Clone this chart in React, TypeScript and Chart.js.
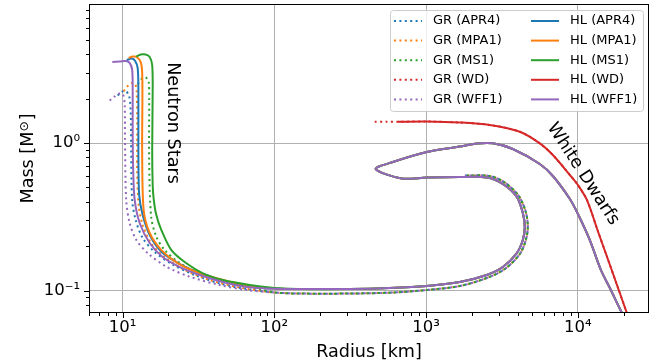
import React, { useEffect, useRef } from 'react';
import { Chart, registerables } from 'chart.js';

Chart.register(...registerables);

const FONT = '"DejaVu Sans", "Liberation Sans", sans-serif';

// ---------- axis ticks ----------
const X_MIN = 6;
const X_MAX = 29400;
const Y_MIN = 0.0704;
const Y_MAX = 8.76;
const X_MAJOR = [10, 100, 1000, 10000];
const X_LABELS = ['10¹', '10²', '10³', '10⁴'];
const Y_MAJOR = [0.1, 1];
const Y_LABELS = ['10⁻¹', '10⁰'];

// ---------- shared low-density tails ----------
const HL_TAIL_R = [146.9, 313.6, 575, 1009, 1665, 2508, 3199, 3956, 4334, 4466, 4334, 3956, 3199, 2508, 1665, 1009, 690, 465, 603, 1009, 1665, 2156, 2748, 3724, 5607, 6836, 8853, 10000, 11980, 14160, 16480, 19500, 20100];
const HL_TAIL_M = [0.1024, 0.1024, 0.104, 0.1073, 0.1142, 0.1274, 0.1443, 0.1795, 0.22, 0.2695, 0.3353, 0.4304, 0.5273, 0.5834, 0.588, 0.5834, 0.5744, 0.6665, 0.743, 0.869, 0.9468, 0.9922, 0.9953, 0.911, 0.7206, 0.5974, 0.4173, 0.3301, 0.22, 0.138, 0.1008, 0.0704, 0.068];

const GR_TAIL_R = [100.5, 146.9, 313.6, 603, 1009, 1665, 2508, 3296, 4140, 4535, 4675, 4535, 4077, 3296, 2624, 1797];
const GR_TAIL_M = [0.0969, 0.0954, 0.0954, 0.0969, 0.1008, 0.1073, 0.1216, 0.1399, 0.1768, 0.22, 0.2695, 0.3404, 0.437, 0.5398, 0.5974, 0.602];

// ---------- GR (dotted) neutron-star branches ----------
const GR_APR4_R = [9.27, 9.85, 10.47, 11.03, 11.29, 11.38, 11.55, 12.18, 13.55, 16.25, 21.04, 29.8, 44.9, 68.7];
const GR_APR4_M = [2.1, 2.22, 2.25, 2.08, 1.67, 0.897, 0.411, 0.301, 0.227, 0.1824, 0.1512, 0.1274, 0.1106, 0.1016];
const GR_MPA1_R = [10.15, 10.79, 11.47, 12.09, 12.37, 12.46, 12.46, 12.75, 13.55, 15.53, 19.21, 25.6, 37.5, 59.1];
const GR_MPA1_M = [2.25, 2.43, 2.55, 2.51, 2.22, 1.43, 0.656, 0.38, 0.278, 0.2066, 0.1661, 0.138, 0.1178, 0.1048];
const GR_MS1_R = [12.56, 13.34, 14.18, 14.84, 14.95, 14.95, 15.41, 16.68, 18.92, 23.8, 33.7, 50.7, 80.0];
const GR_MS1_M = [2.51, 2.72, 2.78, 2.59, 1.96, 0.767, 0.3165, 0.2316, 0.188, 0.1536, 0.1274, 0.1124, 0.1024];
const GR_WFF1_R = [8.21, 8.86, 9.55, 10.08, 10.31, 10.36, 10.55, 11.12, 12.31, 14.68, 19.42, 27.7, 43.6, 65.4];
const GR_WFF1_M = [1.94, 2.07, 2.17, 2.12, 1.81, 1.048, 0.411, 0.2868, 0.22, 0.1788, 0.145, 0.1241, 0.109, 0.1008];
const GR_WD_R = [458, 550, 650, 1009, 1665, 2624, 4140, 5607, 6836, 8853, 10000, 11460, 13670, 15820, 18580, 21010, 22320];
const GR_WD_M = [1.392, 1.394, 1.394, 1.399, 1.377, 1.325, 1.193, 0.995, 0.829, 0.607, 0.519, 0.411, 0.2454, 0.161, 0.1008, 0.0704, 0.0593];

// ---------- HL (solid) neutron-star branches ----------
const HL_APR4_R = [10.63, 11.47, 12.09, 12.56, 12.69, 12.69, 12.85, 13.55, 15.07, 18.07, 23.8, 32.2, 49.2, 68.7, 100.5];
const HL_APR4_M = [3.65, 3.74, 3.6, 3.22, 2.29, 0.897, 0.444, 0.325, 0.2378, 0.1824, 0.1512, 0.1314, 0.1142, 0.1064, 0.103];
const HL_MPA1_R = [10.95, 11.64, 12.37, 13.14, 13.44, 13.49, 13.44, 13.75, 15.07, 17.99, 23.04, 32.2, 50.7, 74.2, 100.5];
const HL_MPA1_M = [3.77, 3.86, 3.83, 3.54, 3.03, 1.96, 0.897, 0.351, 0.2454, 0.188, 0.1536, 0.1314, 0.1147, 0.1064, 0.1032];
const HL_MS1_R = [12.27, 13.14, 14.18, 15.07, 15.65, 15.77, 15.65, 15.77, 16.0, 16.6, 17.99, 20.94, 26.3, 33.8, 45.8, 68.7, 100.5];
const HL_MS1_M = [3.86, 3.98, 3.98, 3.83, 3.38, 2.29, 0.897, 0.519, 0.42, 0.33, 0.257, 0.188, 0.1529, 0.1308, 0.1178, 0.109, 0.104];
const HL_WFF1_R = [8.55, 9.55, 10.47, 11.12, 11.55, 11.64, 11.64, 11.73, 12.0, 12.94, 15.07, 18.35, 23.8, 32.2, 45.6, 65.7, 100.5];
const HL_WFF1_M = [3.54, 3.57, 3.6, 3.49, 3.13, 2.29, 1.225, 0.656, 0.411, 0.2868, 0.2099, 0.1687, 0.1443, 0.1274, 0.1142, 0.1056, 0.1026];
const HL_WD_R = [650, 1009, 1665, 2624, 4140, 5607, 6836, 8853, 10000, 11460, 13670, 15820, 18580, 21010, 22320];
const HL_WD_M = [1.394, 1.399, 1.377, 1.325, 1.193, 0.995, 0.829, 0.607, 0.519, 0.411, 0.2454, 0.161, 0.1008, 0.0704, 0.0593];

const COLORS: Record<string, string> = {
  APR4: '#1f77b4',
  MPA1: '#ff7f0e',
  MS1: '#2ca02c',
  WD: '#d62728',
  WFF1: '#9467bd',
};
const EOS = ['APR4', 'MPA1', 'MS1', 'WD', 'WFF1'];

const zip = (r: number[], m: number[]) => r.map((x, i) => ({ x, y: m[i] }));

function minorTicks(min: number, max: number, majors: number[]) {
  const out: number[] = [];
  const e0 = Math.floor(Math.log10(min));
  const e1 = Math.ceil(Math.log10(max));
  for (let e = e0; e <= e1; e++) {
    for (let k = 1; k <= 9; k++) {
      const v = parseFloat((k * Math.pow(10, e)).toPrecision(6));
      if (v >= min && v <= max && !majors.includes(v)) out.push(v);
    }
  }
  return out;
}

const decorPlugin = {
  id: 'decor',
  afterDatasetsDraw(chart: any) {
    const ctx = chart.ctx as CanvasRenderingContext2D;
    const { left, right, top, bottom } = chart.chartArea;
    const xs = chart.scales.x;
    const ys = chart.scales.y;
    ctx.save();

    // annotations
    ctx.fillStyle = '#000';
    ctx.font = `17.6px ${FONT}`;
    ctx.save();
    ctx.translate(168, 123);
    ctx.rotate(Math.PI / 2);
    ctx.textAlign = 'center';
    ctx.textBaseline = 'alphabetic';
    ctx.fillText('Neutron Stars', 0, 0);
    ctx.restore();

    ctx.save();
    ctx.translate(583, 174);
    ctx.rotate((57 * Math.PI) / 180);
    ctx.textAlign = 'center';
    ctx.textBaseline = 'middle';
    ctx.fillText('White Dwarfs', 0, 0);
    ctx.restore();

    // spines
    ctx.strokeStyle = '#000';
    ctx.lineWidth = 1;
    ctx.strokeRect(left + 0.5, top + 0.5, right - left - 1, bottom - top - 1);

    // tick marks
    const xMinor = minorTicks(X_MIN, X_MAX, X_MAJOR);
    const yMinor = minorTicks(Y_MIN, Y_MAX, Y_MAJOR);
    ctx.beginPath();
    X_MAJOR.forEach((v) => {
      const p = Math.round(xs.getPixelForValue(v)) + 0.5;
      ctx.moveTo(p, bottom);
      ctx.lineTo(p, bottom + 5);
    });
    xMinor.forEach((v) => {
      const p = Math.round(xs.getPixelForValue(v)) + 0.5;
      ctx.moveTo(p, bottom);
      ctx.lineTo(p, bottom + 3);
    });
    Y_MAJOR.forEach((v) => {
      const p = Math.round(ys.getPixelForValue(v)) + 0.5;
      ctx.moveTo(left, p);
      ctx.lineTo(left - 5, p);
    });
    yMinor.forEach((v) => {
      const p = Math.round(ys.getPixelForValue(v)) + 0.5;
      ctx.moveTo(left, p);
      ctx.lineTo(left - 3, p);
    });
    ctx.stroke();

    // axis titles
    ctx.fillStyle = '#000';
    ctx.font = `17.6px ${FONT}`;
    ctx.textAlign = 'center';
    ctx.textBaseline = 'alphabetic';
    ctx.fillText('Radius [km]', (left + right) / 2, 357);

    ctx.save();
    ctx.translate(33, (top + bottom) / 2);
    ctx.rotate(-Math.PI / 2);
    ctx.textAlign = 'left';
    const big = `17.6px ${FONT}`;
    const small = `12.3px ${FONT}`;
    ctx.font = big;
    const p1 = 'Mass [M';
    const p3 = ']';
    const w1 = ctx.measureText(p1).width;
    const w3 = ctx.measureText(p3).width;
    ctx.font = small;
    const w2 = ctx.measureText('⊙').width;
    const total = w1 + w2 + w3 + 1;
    let cx = -total / 2;
    ctx.font = big;
    ctx.fillText(p1, cx, 0);
    cx += w1;
    ctx.font = small;
    ctx.fillText('⊙', cx, -5);
    cx += w2 + 1;
    ctx.font = big;
    ctx.fillText(p3, cx, 0);
    ctx.restore();

    // legend
    const lx = 390.5;
    const ly = 10.5;
    const lw = 253;
    const lh = 101;
    ctx.beginPath();
    ctx.roundRect(lx, ly, lw, lh, 3);
    ctx.fillStyle = 'rgba(255,255,255,0.8)';
    ctx.fill();
    ctx.strokeStyle = '#cccccc';
    ctx.lineWidth = 1;
    ctx.stroke();

    ctx.font = `13px ${FONT}`;
    ctx.textAlign = 'left';
    ctx.textBaseline = 'middle';
    const datasets = chart.data.datasets;
    datasets.forEach((ds: any, i: number) => {
      const col = i < 5 ? 0 : 1;
      const row = i % 5;
      const y = 21 + row * 19.6;
      const hx0 = col === 0 ? 394 : 531;
      const hx1 = hx0 + 28;
      ctx.beginPath();
      ctx.strokeStyle = ds.borderColor;
      ctx.lineWidth = 2;
      ctx.setLineDash(ds.borderDash || []);
      ctx.moveTo(hx0, y);
      ctx.lineTo(hx1, y);
      ctx.stroke();
      ctx.setLineDash([]);
      ctx.fillStyle = '#000';
      ctx.fillText(ds.label, hx1 + 11, y);
    });

    ctx.restore();
  },
};

export default function App() {
  const ref = useRef<HTMLCanvasElement | null>(null);

  useEffect(() => {
    document.body.style.margin = '0';
    if (!ref.current) return;
    Chart.defaults.font.family = FONT;

    const gr: Record<string, [number[], number[]]> = {
      APR4: [GR_APR4_R.concat(GR_TAIL_R), GR_APR4_M.concat(GR_TAIL_M)],
      MPA1: [GR_MPA1_R.concat(GR_TAIL_R), GR_MPA1_M.concat(GR_TAIL_M)],
      MS1: [GR_MS1_R.concat(GR_TAIL_R), GR_MS1_M.concat(GR_TAIL_M)],
      WD: [GR_WD_R, GR_WD_M],
      WFF1: [GR_WFF1_R.concat(GR_TAIL_R), GR_WFF1_M.concat(GR_TAIL_M)],
    };
    const hl: Record<string, [number[], number[]]> = {
      APR4: [HL_APR4_R.concat(HL_TAIL_R), HL_APR4_M.concat(HL_TAIL_M)],
      MPA1: [HL_MPA1_R.concat(HL_TAIL_R), HL_MPA1_M.concat(HL_TAIL_M)],
      MS1: [HL_MS1_R.concat(HL_TAIL_R), HL_MS1_M.concat(HL_TAIL_M)],
      WD: [HL_WD_R, HL_WD_M],
      WFF1: [HL_WFF1_R.concat(HL_TAIL_R), HL_WFF1_M.concat(HL_TAIL_M)],
    };

    const datasets: any[] = [];
    EOS.forEach((e) => {
      datasets.push({
        label: `GR (${e})`,
        data: zip(gr[e][0], gr[e][1]),
        borderColor: COLORS[e],
        backgroundColor: COLORS[e],
        borderDash: [2, 3.4],
      });
    });
    EOS.forEach((e) => {
      datasets.push({
        label: `HL (${e})`,
        data: zip(hl[e][0], hl[e][1]),
        borderColor: COLORS[e],
        backgroundColor: COLORS[e],
      });
    });
    datasets.forEach((d, i) => {
      d.showLine = true;
      d.fill = false;
      d.pointRadius = 0;
      d.borderWidth = 2;
      d.tension = 0.3;
      d.order = datasets.length - i;
    });

    const xTickVals = X_MAJOR.concat(minorTicks(X_MIN, X_MAX, X_MAJOR)).sort((a, b) => a - b);
    const yTickVals = Y_MAJOR.concat(minorTicks(Y_MIN, Y_MAX, Y_MAJOR)).sort((a, b) => a - b);

    const chart = new Chart(ref.current, {
      type: 'scatter',
      data: { datasets },
      plugins: [decorPlugin],
      options: {
        responsive: false,
        animation: false,
        devicePixelRatio: 1,
        layout: { padding: { top: 4, right: 13, left: 0, bottom: 0 } },
        plugins: { legend: { display: false }, tooltip: { enabled: false } },
        elements: { point: { radius: 0 }, line: { capBezierPoints: false } },
        scales: {
          x: {
            type: 'logarithmic',
            min: X_MIN,
            max: X_MAX,
            bounds: 'data',
            afterFit: (s: any) => {
              s.height = 51;
              s.paddingLeft = 0;
              s.paddingRight = 0;
            },
            afterBuildTicks: (s: any) => {
              s.ticks = xTickVals.map((v) => ({ value: v, major: X_MAJOR.includes(v) }));
            },
            grid: {
              drawTicks: false,
              lineWidth: 1,
              color: (c: any) => (c.tick && X_MAJOR.includes(c.tick.value) ? '#b0b0b0' : 'rgba(0,0,0,0)'),
            },
            border: { display: false },
            ticks: {
              autoSkip: false,
              maxRotation: 0,
              minRotation: 0,
              padding: 5,
              color: '#000',
              font: { family: FONT, size: 16.5 },
              callback: (v: any) => {
                const i = X_MAJOR.indexOf(Number(v));
                return i >= 0 ? X_LABELS[i] : '';
              },
            },
          },
          y: {
            type: 'logarithmic',
            min: Y_MIN,
            max: Y_MAX,
            bounds: 'data',
            afterFit: (s: any) => {
              s.width = 89;
              s.paddingTop = 0;
              s.paddingBottom = 0;
            },
            afterBuildTicks: (s: any) => {
              s.ticks = yTickVals.map((v) => ({ value: v, major: Y_MAJOR.includes(v) }));
            },
            grid: {
              drawTicks: false,
              lineWidth: 1,
              color: (c: any) => (c.tick && Y_MAJOR.includes(c.tick.value) ? '#b0b0b0' : 'rgba(0,0,0,0)'),
            },
            border: { display: false },
            ticks: {
              autoSkip: false,
              padding: 9,
              color: '#000',
              font: { family: FONT, size: 16.5 },
              callback: (v: any) => {
                const i = Y_MAJOR.indexOf(Number(v));
                return i >= 0 ? Y_LABELS[i] : '';
              },
            },
          },
        },
      },
    });
    return () => chart.destroy();
  }, []);

  return (
    <div style={{ width: 662, height: 364 }}>
      <canvas ref={ref} width={662} height={364} style={{ width: 662, height: 364, display: 'block' }} />
    </div>
  );
}
